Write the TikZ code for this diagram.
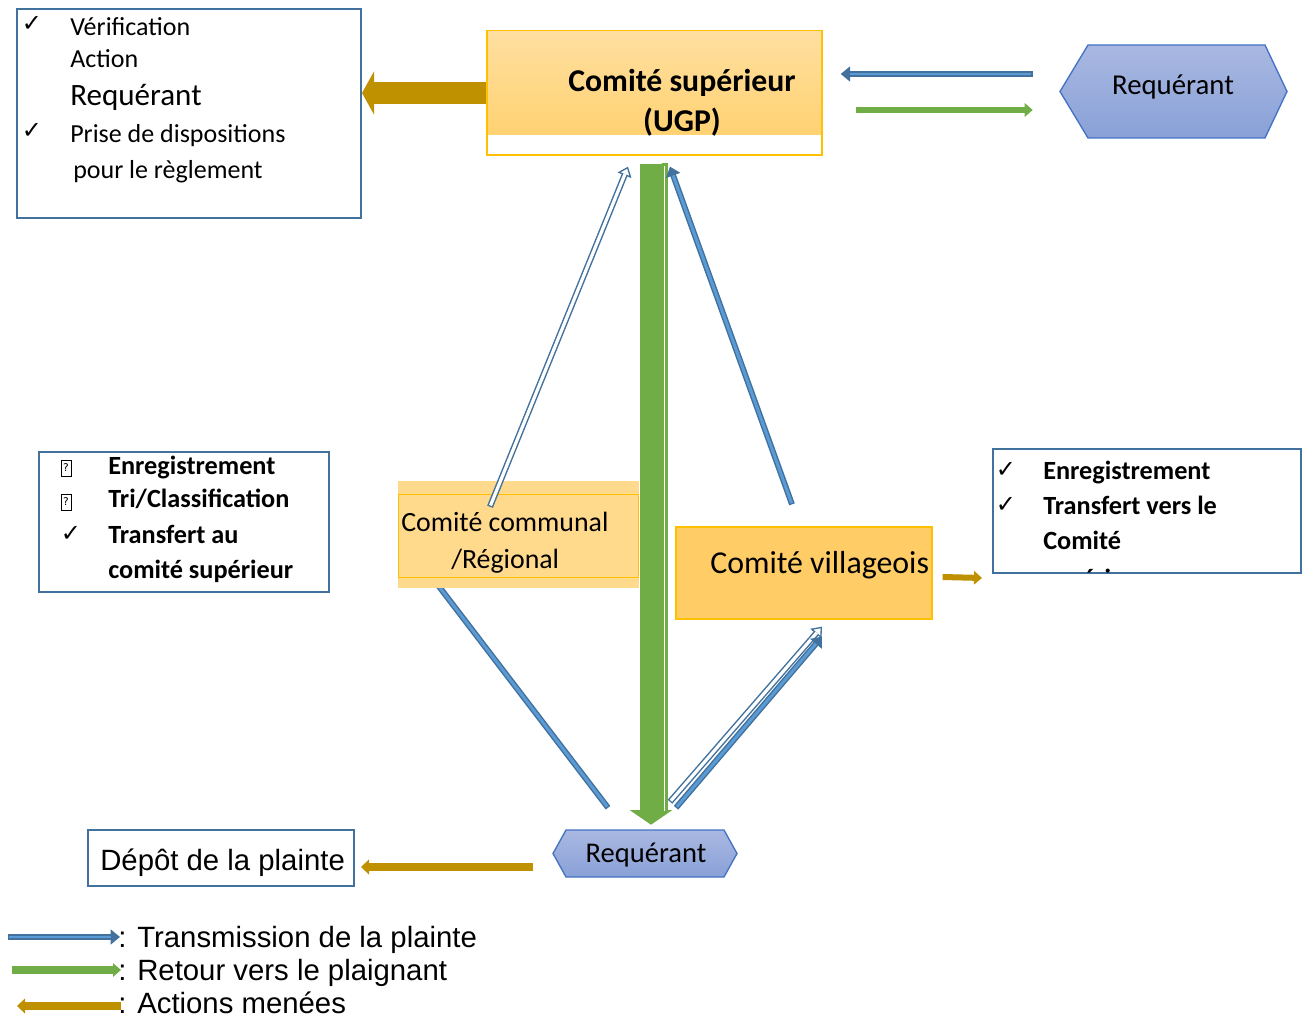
\documentclass[tikz,border=0pt]{standalone}
\usepackage{fontspec}
\setmainfont{Carlito}
\newfontfamily\arialf{Liberation Sans}
\newfontfamily\symf{DejaVu Sans}
\usetikzlibrary{arrows.meta,fit,calc,backgrounds}
\newcommand\fsz[1]{\fontsize{#1}{#1}\selectfont}
\definecolor{bbord}{HTML}{41719C}
\definecolor{ybord}{HTML}{FFC000}
\definecolor{supTop}{HTML}{FFDFA0}
\definecolor{supBot}{HTML}{FFD272}
\definecolor{commfill}{HTML}{FFD98C}
\definecolor{villfill}{HTML}{FFCC66}
\definecolor{brownc}{HTML}{BF9000}
\definecolor{greenc}{HTML}{70AD47}
\definecolor{bdark}{HTML}{41719C}
\definecolor{blight}{HTML}{5B9BD5}
\definecolor{hexTop}{HTML}{A9B8E1}
\definecolor{hexBot}{HTML}{89A1D8}
\definecolor{hexB}{HTML}{4472C4}
\tikzset{
  bbox/.style={draw=bbord, line width=1.5pt, inner sep=0pt},
  plain/.style={inner sep=0pt},
  txt/.style={anchor=base west, inner sep=0pt},
  ctxt/.style={anchor=base, inner sep=0pt},
  chk/.style={inner sep=0pt, font=\symf\fsz{18}},
  qbox/.style={draw, line width=0.4pt, inner sep=0pt, minimum width=7.5pt, minimum height=12pt, font=\symf\fsz{8}},
  bluesolid/.style={draw=bdark, line width=4.4pt, -{Triangle[length=7pt,width=11pt]},
    postaction={draw=blight, line width=2.2pt, shorten >=7pt, shorten <=1pt, -}},
  bluehollow/.style={draw=bdark, line width=4.6pt, -{Triangle[length=7pt,width=11pt,fill=white,line width=1pt]},
    postaction={draw=white, line width=2.4pt, shorten >=6pt, shorten <=1pt, -}},
  greenarr/.style={draw=greenc, line width=4.5pt, -{Triangle[length=6pt,width=10pt]}},
  brownarr/.style={draw=brownc, line width=4.5pt, -{Triangle[length=6pt,width=10pt]}},
  brownmid/.style={draw=brownc, line width=6pt, -{Triangle[length=6pt,width=11pt]}},
  brownfat/.style={draw=brownc, line width=16.5pt, -{Triangle[length=9pt,width=32pt]}},
  greenfat/.style={draw=greenc, line width=16.5pt, -{Triangle[length=11pt,width=31.5pt]}},
}
\begin{document}
\begin{tikzpicture}[x=0.75pt,y=-0.75pt]
\useasboundingbox (0,0) rectangle (1303,1019);

% ---------- top-left box ----------
\node[bbox, fit={(17,9)(361,218)}] (tl) {};
\node[chk] (c1) at (32,24) {✓};
\node[txt, font=\fsz{19.5}] (t1) at (70,36) {Vérification};
\node[txt, font=\fsz{19.5}] (t2) at (70,68) {Action};
\node[txt, font=\fsz{23.3}] (t3) at (70,106) {Requérant};
\node[chk] (c2) at (32,131) {✓};
\node[txt, font=\fsz{19.5}] (t4) at (70,143) {Prise de dispositions};
\node[txt, font=\fsz{19.5}] (t5) at (73,179) {pour le règlement};

% ---------- Comité supérieur ----------
\node[fit={(487,31)(822,155)}, inner sep=0pt, draw=ybord, line width=1pt, fill=white] (sup) {};
\shade[top color=supTop, bottom color=supBot] (488,32) rectangle (821,135);
\node[ctxt, font=\bfseries\fsz{23.8}] (s1) at (682,92) {Comité supérieur};
\node[ctxt, font=\bfseries\fsz{23.8}] (s2) at (682,132) {(UGP)};

% ---------- right Requérant hexagon ----------
\shade[top color=hexTop, bottom color=hexBot, draw=hexB, line width=1pt]
  (1060,91.5)--(1088,45)--(1265,45)--(1287,91.5)--(1265,138)--(1088,138)--cycle;
\node[fit={(1060,45)(1287,138)}, inner sep=0pt] (reqR) {};
\node[ctxt, font=\fsz{21.6}] (r1) at (1173,95) {Requérant};

% ---------- bottom Requérant hexagon ----------
\shade[top color=hexTop, bottom color=hexBot, draw=hexB, line width=1pt]
  (553,853.5)--(566,830)--(724,830)--(737,853.5)--(724,877)--(566,877)--cycle;
\node[fit={(553,830)(737,877)}, inner sep=0pt] (req2) {};
\node[ctxt, font=\fsz{21.4}] (r2) at (646,862) {Requérant};

% ---------- Comité communal ----------
\node[fit={(399,495)(638,577)}, inner sep=0pt] (comm) {};
\begin{scope}[on background layer]
  \draw[bluesolid] ($(req2.north)+(-37,-22)$) -- ($(comm.south)+(-98,-15)$);
\end{scope}
\fill[commfill] (398,481) rectangle (639,588);
\draw[ybord, line width=0.8pt] (comm.south west) rectangle (comm.north east);
\node[txt, font=\fsz{20.9}] (m1) at (401,532) {Comité communal};
\node[txt, font=\fsz{20.9}] (m2) at (451,569) {/Régional};

% ---------- Comité villageois ----------
\node[fit={(676,527)(932,619)}, inner sep=0pt, draw=ybord, line width=1pt, fill=villfill] (vill) {};
\node[txt, font=\fsz{23.9}] (v1) at (710,573) {Comité villageois};

% ---------- right list box ----------
\node[bbox, fit={(993,449)(1301,573)}] (rbox) {};
\node[chk] (c3) at (1006,470) {✓};
\node[txt, font=\bfseries\fsz{19.7}] (e1) at (1043,480) {Enregistrement};
\node[chk] (c4) at (1006,505) {✓};
\node[txt, font=\bfseries\fsz{19.7}] (e2) at (1043,515) {Transfert vers le};
\node[txt, font=\bfseries\fsz{19.7}] (e3) at (1043,550) {Comité};
\begin{scope}
  \clip (993,449) rectangle (1301,572);
  \node[txt, font=\bfseries\fsz{19.7}] (e4) at (1043,587) {supérieur};
\end{scope}

% ---------- left list box ----------
\node[bbox, fit={(39,452)(329,592)}] (lbox) {};
\node[qbox] (q1) at (66,468) {?};
\node[txt, font=\bfseries\fsz{19.7}] (f1) at (108,475) {Enregistrement};
\node[qbox] (q2) at (66,502) {?};
\node[txt, font=\bfseries\fsz{19.7}] (f2) at (108,508) {Tri/Classification};
\node[chk] (c5) at (71,534) {✓};
\node[txt, font=\bfseries\fsz{19.7}] (f3) at (108,543) {Transfert au};
\node[txt, font=\bfseries\fsz{19.7}] (f4) at (108,578) {comité supérieur};

% ---------- Dépôt de la plainte ----------
\node[bbox, fit={(88,830)(354,886)}] (dep) {};
\node[txt, font=\arialf\fsz{22}] (d1) at (100,870) {Dépôt de la plainte};

% ---------- connectors ----------
\draw[brownfat] (sup.west) -- (sup.west -| tl.east);
\draw[bluesolid] ($(reqR.west)+(-27,-17.5)$) -- ($(sup.east)+(18,-19)$);
\draw[greenarr] ($(sup.east)+(33,17)$) -- ($(reqR.west)+(-27,18.5)$);
% big green return arrow
\draw[greenfat] ($(sup.south)+(-3.5,8)$) -- ($(req2.north)+(6,-5)$);
\draw[greenc, line width=4.5pt] (665,163) -- (665,813);
\draw[white, line width=1pt] (664.5,166) -- (664.5,811);
\draw[bluehollow] ($(comm.north)+(-28.5,12)$) -- ($(sup.south)+(-26.5,11)$);
\draw[bluesolid] ($(vill.north)+(-12,-22)$) -- ($(sup.south)+(15.5,11)$);
\draw[bluehollow] ($(req2.north)+(25,-28)$) -- ($(vill.south)+(18,7)$);
\draw[bluesolid] ($(req2.north)+(31,-22)$) -- ($(vill.south)+(18,17)$);
\draw[brownarr] ($(vill.east)+(10,4)$) -- ($(rbox.south west)+(-10,4)$);
\draw[brownmid] ($(req2.west)+(-20,13.5)$) -- ($(dep.east)+(6,9)$);

% ---------- legend ----------
\coordinate (la1) at (8,937);  \coordinate (lb1) at (120,937);
\coordinate (la2) at (12,970); \coordinate (lb2) at (121,970);
\coordinate (la3) at (121,1006); \coordinate (lb3) at (17,1006);
\draw[bluesolid] (la1) -- (lb1);
\draw[greenarr, line width=6pt] (la2) -- (lb2);
\draw[brownmid] (la3) -- (lb3);
\node[txt, font=\arialf\fsz{22}] (g1) at (118,947) {: Transmission de la plainte};
\node[txt, font=\arialf\fsz{22}] (g2) at (118,980) {: Retour vers le plaignant};
\node[txt, font=\arialf\fsz{22}] (g3) at (118,1013) {: Actions menées};
\end{tikzpicture}
\end{document}
